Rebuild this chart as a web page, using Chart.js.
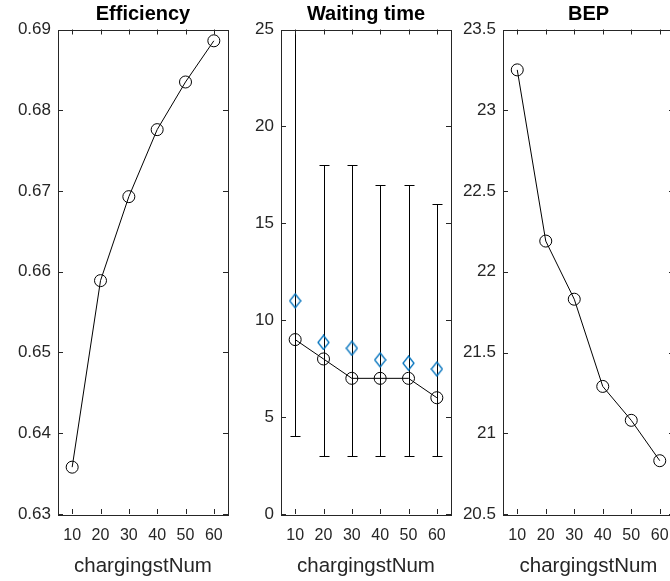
<!DOCTYPE html>
<html>
<head>
<meta charset="utf-8">
<script src="https://cdn.jsdelivr.net/npm/chart.js@4.4.1/dist/chart.umd.min.js"></script>
<style>
  html, body { margin: 0; padding: 0; background: #fff; overflow: hidden; }
  #wrap { position: relative; width: 670px; height: 581px; overflow: hidden; }
  canvas { position: absolute; top: 0; }
</style>
</head>
<body>
<div id="wrap">
  <canvas id="effChart" width="230" height="581" style="left:0px"></canvas>
  <canvas id="waitChart" width="223" height="581" style="left:230px"></canvas>
  <canvas id="bepChart" width="223" height="581" style="left:453px"></canvas>
</div>
<script>
const chargingstNum = ['10', '20', '30', '40', '50', '60'];

const efficiency = [0.6358, 0.6589, 0.6693, 0.6776, 0.6835, 0.6886];
const efficiencyTicks = [0.63, 0.64, 0.65, 0.66, 0.67, 0.68, 0.69];

const waitMedian = [9, 8, 7, 7, 7, 6];
const waitMean = [11.0, 8.85, 8.55, 7.95, 7.78, 7.48];
const waitLow = [4, 3, 3, 3, 3, 3];
const waitHigh = [25, 18, 18, 17, 17, 16];
const waitTicks = [0, 5, 10, 15, 20, 25];

const bep = [23.25, 22.19, 21.83, 21.29, 21.08, 20.83];
const bepTicks = [20.5, 21, 21.5, 22, 22.5, 23, 23.5];

const FONT = '"Liberation Sans", Arial, Helvetica, sans-serif';
const AXIS_COLOR = '#262626';
const BLUE = '#0072BD';

// MATLAB-ish diamond marker (taller than wide)
function makeDiamond() {
    const c = document.createElement('canvas');
    c.width = 13;
    c.height = 16;
    const g = c.getContext('2d');
    g.strokeStyle = BLUE;
    g.lineWidth = 1.3;
    g.beginPath();
    g.moveTo(6.5, 1);
    g.lineTo(12, 8);
    g.lineTo(6.5, 15);
    g.lineTo(1, 8);
    g.closePath();
    g.stroke();
    return c;
}

// box around plot area, inward ticks on all four sides, title over the plot area
const matlabBox = {
    id: 'matlabBox',
    afterDraw(chart) {
        const {ctx, chartArea: a, scales: {x, y}} = chart;
        const len = 5;
        ctx.save();
        ctx.strokeStyle = AXIS_COLOR;
        ctx.lineWidth = 1;
        ctx.beginPath();
        x.ticks.forEach((t, i) => {
            const px = Math.round(x.getPixelForTick(i)) + 0.5;
            ctx.moveTo(px, a.bottom);
            ctx.lineTo(px, a.bottom - len);
            ctx.moveTo(px, a.top);
            ctx.lineTo(px, a.top + len);
        });
        y.ticks.forEach(t => {
            const py = Math.round(y.getPixelForValue(t.value)) + 0.5;
            ctx.moveTo(a.left, py);
            ctx.lineTo(a.left + len, py);
            ctx.moveTo(a.right, py);
            ctx.lineTo(a.right - len, py);
        });
        ctx.stroke();
        ctx.strokeRect(Math.round(a.left) + 0.5, Math.round(a.top) + 0.5,
            Math.round(a.right - a.left), Math.round(a.bottom - a.top));

        ctx.fillStyle = '#000';
        ctx.font = 'bold 20px ' + FONT;
        ctx.textAlign = 'center';
        ctx.textBaseline = 'alphabetic';
        ctx.fillText(chart.options.plugins.matlabBox.title, (a.left + a.right) / 2, 20);
        ctx.restore();
    }
};

const errorBars = {
    id: 'errorBars',
    beforeDatasetsDraw(chart) {
        if (!chart.options.plugins.errorBars) return;
        const {ctx, scales: {x, y}} = chart;
        const cap = 5;
        ctx.save();
        ctx.strokeStyle = '#000';
        ctx.lineWidth = 1;
        ctx.beginPath();
        waitLow.forEach((lo, i) => {
            const px = Math.round(x.getPixelForValue(i)) + 0.5;
            const yLo = Math.round(y.getPixelForValue(lo)) + 0.5;
            const yHi = Math.round(y.getPixelForValue(waitHigh[i])) + 0.5;
            ctx.moveTo(px, yLo);
            ctx.lineTo(px, yHi);
            ctx.moveTo(px - cap, yLo);
            ctx.lineTo(px + cap, yLo);
            ctx.moveTo(px - cap, yHi);
            ctx.lineTo(px + cap, yHi);
        });
        ctx.stroke();
        ctx.restore();
    }
};

function makeChart(id, title, datasets, ticks, yWidth, extra) {
    const ctx = document.getElementById(id).getContext('2d');
    return new Chart(ctx, {
        type: 'line',
        data: {labels: chargingstNum, datasets: datasets},
        options: {
            responsive: false,
            animation: false,
            devicePixelRatio: 1,
            layout: {
                autoPadding: false,
                padding: {top: 29.5, right: 2, bottom: 0, left: 0}
            },
            plugins: {
                legend: {display: false},
                tooltip: {enabled: false},
                title: {display: false},
                matlabBox: {title: title},
                errorBars: extra || false
            },
            scales: {
                x: {
                    type: 'category',
                    offset: true,
                    grid: {display: false, drawTicks: false},
                    border: {display: false},
                    ticks: {
                        color: AXIS_COLOR,
                        font: {family: FONT, size: 16},
                        padding: 12,
                        autoSkip: false,
                        maxRotation: 0
                    },
                    title: {
                        display: true,
                        text: 'chargingstNum',
                        color: AXIS_COLOR,
                        font: {family: FONT, size: 20.5},
                        padding: {top: 0, bottom: 2}
                    },
                    afterFit(scale) {
                        scale.height = 67;
                        scale.paddingLeft = 0;
                        scale.paddingRight = 0;
                    }
                },
                y: {
                    type: 'linear',
                    min: ticks[0],
                    max: ticks[ticks.length - 1],
                    grid: {display: false, drawTicks: false},
                    border: {display: false},
                    afterBuildTicks(scale) {
                        scale.ticks = ticks.map(v => ({value: v}));
                    },
                    ticks: {
                        color: AXIS_COLOR,
                        font: {family: FONT, size: 17},
                        padding: 7,
                        callback: v => String(v)
                    },
                    afterFit(scale) {
                        scale.width = yWidth;
                        scale.paddingTop = 0;
                        scale.paddingBottom = 0;
                    }
                }
            }
        },
        plugins: [errorBars, matlabBox]
    });
}

const circleStyle = {
    borderColor: '#000',
    backgroundColor: 'rgba(0,0,0,0)',
    borderWidth: 1,
    pointStyle: 'circle',
    pointRadius: 6,
    pointBorderWidth: 1,
    pointBorderColor: '#000',
    pointBackgroundColor: 'rgba(0,0,0,0)',
    tension: 0,
    clip: false
};

makeChart('effChart', 'Efficiency', [
    Object.assign({data: efficiency}, circleStyle)
], efficiencyTicks, 58);

makeChart('waitChart', 'Waiting time', [
    Object.assign({data: waitMedian}, circleStyle),
    {
        data: waitMean,
        showLine: false,
        pointStyle: makeDiamond(),
        pointRadius: 7,
        borderColor: BLUE,
        clip: false
    }
], waitTicks, 51, true);

makeChart('bepChart', 'BEP', [
    Object.assign({data: bep}, circleStyle)
], bepTicks, 50);
</script>
</body>
</html>
